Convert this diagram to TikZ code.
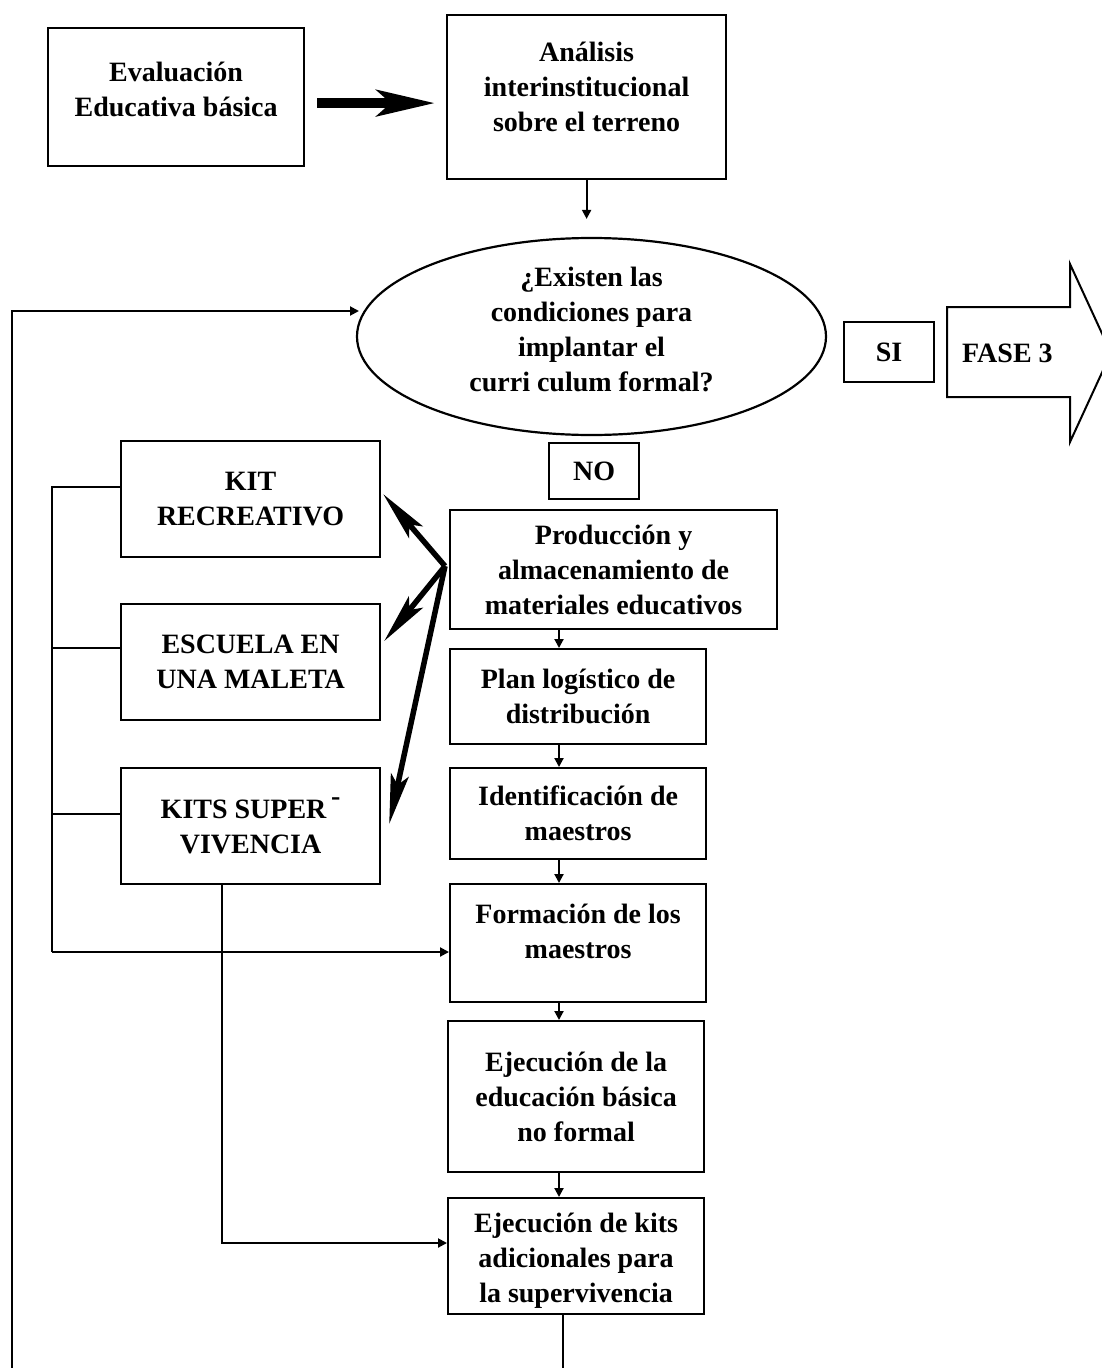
\documentclass[tikz,border=0pt]{standalone}
\usepackage{fontspec}
\setmainfont{Liberation Serif}
\usetikzlibrary{arrows.meta,shapes.geometric,calc}
\begin{document}
\begin{tikzpicture}[x=1pt,y=-1pt,
  txt/.style={font=\bfseries\fontsize{28}{35}\selectfont, align=center, inner sep=0pt},
  box/.style={draw, line width=2.2pt, inner sep=0pt, align=center, anchor=north west, txt},
  line/.style={draw, line width=2pt},
  arr/.style={line, -{Triangle[length=9pt,width=9pt]}},
  bigarr/.style={draw, line width=10pt, -{Stealth[length=58pt,width=26pt,inset=14pt]}},
  thickarr/.style={draw, line width=5.5pt, -{Stealth[length=50pt,width=18pt,inset=10pt]}}
]
\useasboundingbox (0,0) rectangle (1102,1368);

% boxes
\node[box, minimum width=256pt, minimum height=138pt] (eval) at (47,27) {};
\node[txt] (evalt) at ($(eval.center)+(0,-8)$) {Evaluación\\Educativa básica};
\node[box, minimum width=279pt, minimum height=164pt] (anal) at (446,14) {};
\node[txt] (analt) at ($(anal.center)+(0,-10)$) {Análisis\\interinstitucional\\sobre el terreno};
\node[draw, ellipse, line width=2.2pt, inner sep=0pt, minimum width=469pt, minimum height=197pt] (ell) at (591.5,336.5) {};
\node[txt] (ellt) at ($(ell.center)+(0,-7)$) {¿Existen las\\condiciones para\\implantar el\\curri culum formal?};
\node[box, minimum width=90pt, minimum height=60pt] (si) at (843,321) {SI};
\node[box, minimum width=90pt, minimum height=56pt] (no) at (548,442) {NO};
\node[box, minimum width=327pt, minimum height=119pt] (prod) at (449,509) {Producción y\\almacenamiento de\\materiales educativos};
\node[box, minimum width=256pt, minimum height=95pt] (plan) at (449,648) {Plan logístico de\\distribución};
\node[box, minimum width=256pt, minimum height=91pt] (ident) at (449,767) {Identificación de\\maestros};
\node[box, minimum width=256pt, minimum height=118pt] (form) at (449,883) {};
\node[txt] (formt) at ($(form.center)+(0,-12)$) {Formación de los\\maestros};
\node[box, minimum width=256pt, minimum height=151pt] (ejec) at (447,1020) {Ejecución de la\\educación básica\\no formal};
\node[box, minimum width=256pt, minimum height=116pt] (kits) at (447,1197) {};
\node[txt] (kitst) at ($(kits.center)+(0,5)$) {Ejecución de kits\\adicionales para\\la supervivencia};
\node[box, minimum width=259pt, minimum height=116pt] (kit1) at (120,440) {KIT\\RECREATIVO};
\node[box, minimum width=259pt, minimum height=116pt] (kit2) at (120,603) {ESCUELA EN\\UNA MALETA};
\node[box, minimum width=259pt, minimum height=116pt] (kit3) at (120,767) {KITS SUPER\,\raisebox{0.45em}{-}\\VIVENCIA};

% FASE 3 arrow shape
\draw[line width=2pt, line join=miter] (947,307) -- (1070,307) -- (1070,264) -- (1111,353) -- (1070,442) -- (1070,397) -- (947,397) -- cycle;
\node[txt, anchor=west] (fase) at (962,353) {FASE 3};

% main connectors
\draw[bigarr] ($(eval.east)+(12,6)$) -- ($(anal.west)+(-11,6)$);
\draw[arr, shorten >=18pt] (anal.south) -- (anal.south |- ell.north);

% thick arrows from production to kits
\coordinate (apex) at ($(prod.west)+(-4,-3.5)$);
\draw[thickarr] (apex) -- ($(kit1.east)+(2,-5)$);
\draw[thickarr] (apex) -- ($(kit2.east)+(3,-21)$);
\draw[thickarr] (apex) -- ($(kit3.east)+(8,-2)$);

% vertical chain
\coordinate (vx) at (559,0);
\draw[arr] (vx |- prod.south) -- (vx |- plan.north);
\draw[arr] (vx |- plan.south) -- (vx |- ident.north);
\draw[arr] (vx |- ident.south) -- (vx |- form.north);
\draw[arr] (vx |- form.south) -- (vx |- ejec.north);
\draw[arr] (vx |- ejec.south) -- (vx |- kits.north);

% left bracket
\coordinate (bx) at (52,0);
\draw[line] (kit1.west |- 0,487) -- (bx |- 0,487) -- (bx |- 0,952);
\draw[line] (kit2.west |- 0,648) -- (bx |- 0,648);
\draw[line] (kit3.west |- 0,814) -- (bx |- 0,814);
\draw[arr] (bx |- 0,952) -- (form.west |- 0,952);

% kit3 to additional kits
\draw[arr] (kit3.south -| 222,0) |- (kits.west |- 0,1243);

% bottom loop lines
\coordinate (bot) at (563,1368);
\draw[line] (kits.south -| bot) -- (bot);
\coordinate (lb) at (12,1368);
\coordinate (ein) at (359,311);
\draw[arr] (lb) |- (ein);
\end{tikzpicture}
\end{document}
